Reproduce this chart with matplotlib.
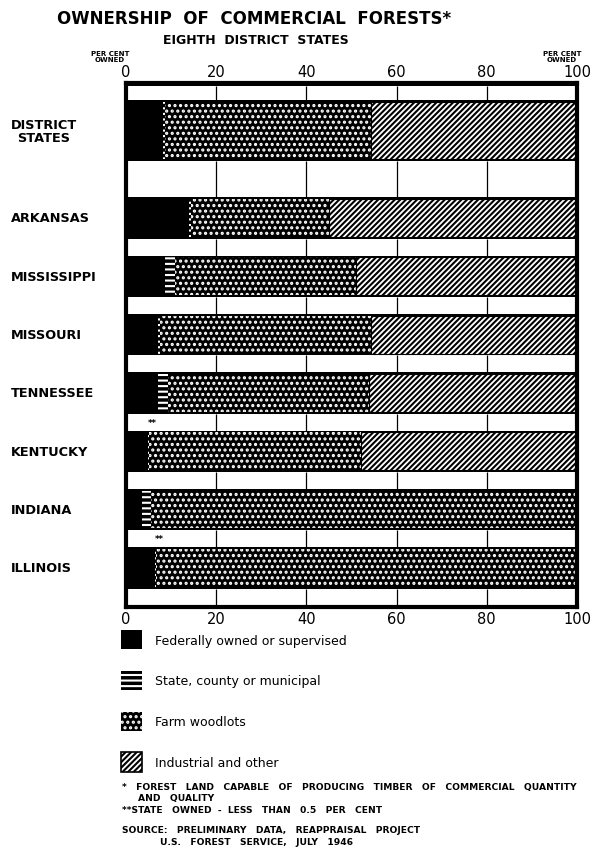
import matplotlib
matplotlib.use("Agg")
import matplotlib.pyplot as plt
from matplotlib.patches import Patch

# ---------------- data ----------------
categories = ["DISTRICT\nSTATES", "ARKANSAS", "MISSISSIPPI", "MISSOURI",
              "TENNESSEE", "KENTUCKY", "INDIANA", "ILLINOIS"]
federal    = [8.2, 14.0, 8.6, 7.2, 7.2, 4.9, 3.5, 6.4]
state      = [0.4, 0.4, 2.3, 0.4, 2.2, 0.3, 2.0, 0.3]
farm       = [45.8, 30.7, 40.1, 46.7, 44.5, 46.9, 94.5, 93.3]
industrial = [45.6, 54.9, 49.0, 45.7, 46.1, 47.9, 0.0, 0.0]
notes      = ["", "", "", "", "", "**", "", "**"]
tick_values = [0, 20, 40, 60, 80, 100]
tick_labels = ["0", "20", "40", "60", "80", "100"]
legend_labels = ["Federally owned or supervised", "State, county or municipal",
                 "Farm woodlots", "Industrial and other"]

# ---------------- layout ----------------
W, H = 595, 853
plt.rcParams["hatch.linewidth"] = 1.5
fig = plt.figure(figsize=(W / 100, H / 100), dpi=100)
fig.patch.set_facecolor("white")

ax_l, ax_r, ax_t, ax_b = 126, 577, 84, 608
ax = fig.add_axes([ax_l / W, 1 - ax_b / H, (ax_r - ax_l) / W, (ax_b - ax_t) / H])
ax.set_facecolor("black")

# bar positions (row units, increasing downward)
bar_pos = [-1.5] + list(range(7))
bar_h = [0.98] + [0.65] * 7
strip_pos = [-2.14, -0.67] + [k + 0.5 for k in range(6)] + [6.51]
strip_h = [0.24, 0.62] + [0.29] * 6 + [0.29]

# white strips with grid lines
ax.barh(strip_pos, [100] * len(strip_pos), left=0, height=strip_h,
        color="white", linewidth=0, zorder=1)
for c, h in zip(strip_pos, strip_h):
    ax.vlines(tick_values[1:-1], c - h / 2, c + h / 2, color="black",
              linewidth=0.9, zorder=2)

lefts = [0.0] * len(categories)
ax.barh(bar_pos, federal, left=lefts, height=bar_h, color="black",
        linewidth=0, zorder=3)
lefts = [a + b for a, b in zip(lefts, federal)]
ax.barh(bar_pos, state, left=lefts, height=bar_h, facecolor="black",
        edgecolor="white", hatch="---", linewidth=0, zorder=3)
lefts = [a + b for a, b in zip(lefts, state)]
ax.barh(bar_pos, farm, left=lefts, height=bar_h, facecolor="black",
        edgecolor="white", hatch="...", linewidth=0, zorder=3)
lefts = [a + b for a, b in zip(lefts, farm)]
ax.barh(bar_pos, industrial, left=lefts, height=bar_h, facecolor="white",
        edgecolor="black", hatch="//////", linewidth=0.8, zorder=3)

# ** notes in the strip above the bar
for i, n in enumerate(notes):
    if n:
        ax.text(federal[i], bar_pos[i] - bar_h[i] / 2 - 0.17, n, ha="left",
                va="center", fontsize=6, fontweight="bold", zorder=4)

ax.set_xlim(0, 100)
ax.set_ylim((ax_b - 219) / 58.3, (ax_t - 219) / 58.3)
ax.set_yticks([])
ax.set_xticks(tick_values)
ax.set_xticklabels(tick_labels)
ax.tick_params(axis="x", length=0, top=False, bottom=False, labeltop=True,
               labelbottom=True, labelsize=10.5, pad=3)
for s in ax.spines.values():
    s.set_linewidth(3)
    s.set_color("black")
    s.set_zorder(5)

# category labels
for cat, p in zip(categories, bar_pos):
    ax.text(-0.255, p, cat, transform=ax.get_yaxis_transform(), ha="left",
            va="center", fontsize=9.3, fontweight="bold", linespacing=1.0,
            multialignment="center")

# titles
fig.text(254 / W, 1 - 19 / H, "OWNERSHIP  OF  COMMERCIAL  FORESTS*",
         ha="center", va="center", fontsize=12, fontweight="bold")
fig.text(256 / W, 1 - 40 / H, "EIGHTH  DISTRICT  STATES", ha="center",
         va="center", fontsize=9, fontweight="bold")
fig.text(110 / W, 1 - 57 / H, "PER CENT\nOWNED", ha="center", va="center",
         fontsize=5, fontweight="bold", linespacing=0.9)
fig.text(562 / W, 1 - 57 / H, "PER CENT\nOWNED", ha="center", va="center",
         fontsize=5, fontweight="bold", linespacing=0.9)

# legend
handles = [
    Patch(facecolor="black", edgecolor="black", linewidth=0),
    Patch(facecolor="black", edgecolor="white", hatch="---", linewidth=0),
    Patch(facecolor="black", edgecolor="white", hatch="...", linewidth=0),
    Patch(facecolor="white", edgecolor="black", hatch="//////", linewidth=1.2),
]
fig.legend(handles, legend_labels, loc="upper left",
           bbox_to_anchor=(121 / W, 1 - 631 / H), frameon=False, fontsize=9,
           handlelength=1.7, handleheight=2.0, handletextpad=1.0,
           labelspacing=1.72, borderpad=0, borderaxespad=0)

# footnotes
fn = dict(fontsize=6.6, fontweight="bold", ha="left", va="center")
fig.text(122 / W, 1 - 788 / H,
         "*   FOREST   LAND   CAPABLE   OF   PRODUCING   TIMBER   OF   COMMERCIAL   QUANTITY", **fn)
fig.text(138 / W, 1 - 799 / H, "AND   QUALITY", **fn)
fig.text(122 / W, 1 - 811 / H, "**STATE   OWNED  -  LESS   THAN   0.5   PER   CENT", **fn)
fig.text(122 / W, 1 - 831 / H, "SOURCE:   PRELIMINARY   DATA,   REAPPRAISAL   PROJECT", **fn)
fig.text(160 / W, 1 - 843 / H, "U.S.   FOREST   SERVICE,   JULY   1946", **fn)

fig.savefig("out.png", dpi=100, facecolor="white")
